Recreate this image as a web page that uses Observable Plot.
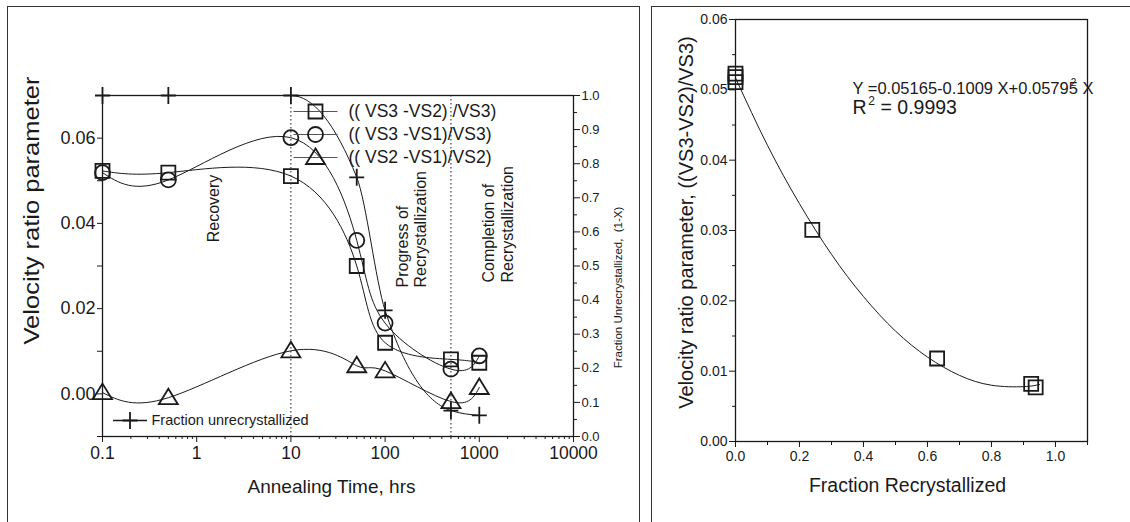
<!DOCTYPE html>
<html><head><meta charset="utf-8">
<script src="https://cdn.jsdelivr.net/npm/d3@7"></script>
<script src="https://cdn.jsdelivr.net/npm/@observablehq/plot@0.6"></script>
<style>
html,body{margin:0;padding:0;background:#fff;}
#wrap{position:relative;width:1130px;height:522px;overflow:hidden;font-family:"Liberation Sans",Arial,sans-serif;}
.panel{position:absolute;border:1.5px solid #333;border-bottom:none;box-sizing:border-box;}
#lp{left:7px;top:6px;width:633px;height:530px;}
#rp{left:651px;top:6px;width:520px;height:530px;}
.plot{position:absolute;top:0;}
</style></head><body>
<div id="wrap"><div class="panel" id="lp"></div><div class="panel" id="rp"></div></div>
<script>
// ---------- data: left panel ----------
const hours = [0.1, 0.5, 10, 50, 100, 500, 1000];
const ratioVS3VS2 = [0.0523, 0.0519, 0.0511, 0.0300, 0.0120, 0.0081, 0.0073];
const ratioVS3VS1 = [0.0519, 0.0502, 0.0601, 0.0360, 0.0166, 0.0058, 0.0089];
const ratioVS2VS1 = [0.0003, -0.0009, 0.0101, 0.0066, 0.0054, -0.0018, 0.0015];
const fractionUnrecrystallized = [1.0, 1.0, 1.0, 0.76, 0.37, 0.076, 0.062];
const seriesNames = ["(( VS3 -VS2) /VS3)", "(( VS3 -VS1)/VS3)", "(( VS2 -VS1)/VS2)"];
const fractionName = "Fraction unrecrystallized";
const phaseBoundaries = [10, 500];
const timeTicks = [0.1, 1, 10, 100, 1000, 10000];
const timeTickLabels = ["0.1", "1", "10", "100", "1000", "10000"];
const ratioTicks = [0, 0.02, 0.04, 0.06];
const ratioMinorTicks = [-0.01, 0.01, 0.03, 0.05];
const fractionTicks = [0, 0.1, 0.2, 0.3, 0.4, 0.5, 0.6, 0.7, 0.8, 0.9, 1.0];
const fractionMinorTicks = [0.05, 0.15, 0.25, 0.35, 0.45, 0.55, 0.65, 0.75, 0.85, 0.95];

// ---------- data: right panel ----------
const fractionRecrystallized = [0, 0, 0, 0.24, 0.63, 0.924, 0.938];
const ratioRight = [0.0523, 0.0518, 0.0511, 0.0301, 0.0118, 0.0082, 0.0077];
const fitX = [0, 0.1, 0.2, 0.3, 0.4, 0.5, 0.6, 0.7, 0.8, 0.9, 0.95];
const fitY = [0.0517, 0.0421, 0.0338, 0.0266, 0.0206, 0.0157, 0.0120, 0.0094, 0.0080, 0.0078, 0.0081];
const recrystTicks = [0, 0.2, 0.4, 0.6, 0.8, 1.0];
const recrystMinorTicks = [0.1, 0.3, 0.5, 0.7, 0.9, 1.1];
const rightRatioTicks = [0, 0.01, 0.02, 0.03, 0.04, 0.05, 0.06];
const rightRatioMinorTicks = [0.005, 0.015, 0.025, 0.035, 0.045, 0.055];

// ---------- helpers ----------
const FONT = '"Liberation Sans", Arial, Helvetica, sans-serif';
const INK = "#1a1a1a";
const symSquare = {draw(c){ c.rect(-7, -7, 14, 14); }};
const symCircle = {draw(c){ c.moveTo(7.5, 0); c.arc(0, 0, 7.5, 0, 2 * Math.PI); }};
const symTriangle = {draw(c){ c.moveTo(0, -9); c.lineTo(9.5, 6.5); c.lineTo(-9.5, 6.5); c.closePath(); }};
const symPlus = {draw(c){ c.moveTo(-7.5, 0); c.lineTo(7.5, 0); c.moveTo(0, -8.5); c.lineTo(0, 8.5); }};
const symLegendLine = {draw(c){ c.moveTo(-22, 0); c.lineTo(22, 0); }};
const symLegendLineShort = {draw(c){ c.moveTo(-17, 0); c.lineTo(17, 0); }};

// notes are placed in page pixels; ox = left offset of the plot's svg in the page
function noteFn(M, ox) {
  return (str, x, y, o = {}) => Plot.text([str], {text: d => d, frameAnchor: "top-left",
    dx: x - ox - M.ml, dy: y - M.mt, fill: INK, textAnchor: "middle", lineAnchor: "middle", ...o});
}
function legendDot(M, x, y, symbol, o = {}) {
  return Plot.dot([0], {frameAnchor: "top-left", dx: x - M.ml, dy: y - M.mt, symbol,
    fill: "none", stroke: INK, strokeWidth: 1.8, ...o});
}
function stretchText(svg, str, len) {
  d3.select(svg).selectAll("text").filter(function () { return this.textContent === str; })
    .attr("textLength", len).attr("lengthAdjust", "spacingAndGlyphs");
}

// ---------- left panel ----------
const LM = {w: 640, h: 522, ml: 102, mr: 67, mt: 95, mb: 86};
const fy = f => -0.01 + f * 0.08;  // fraction (right axis) -> left y scale
const rows = (ys) => hours.map((t, i) => ({t, v: ys[i]}));
const sVS3VS2 = rows(ratioVS3VS2), sVS3VS1 = rows(ratioVS3VS1), sVS2VS1 = rows(ratioVS2VS1);
const sFrac = hours.map((t, i) => ({t, v: fy(fractionUnrecrystallized[i])}));
const minorTime = [];
for (const dec of [0.1, 1, 10, 100, 1000]) for (let k = 2; k <= 9; k++) minorTime.push(+(dec * k).toPrecision(3));
const nL = noteFn(LM, 0);
const lineOpt = {x: "t", y: "v", curve: "natural", stroke: INK, strokeWidth: 1};
const dotOpt = {x: "t", y: "v", fill: "none", stroke: INK, strokeWidth: 1.8};
const yTitleL = "Velocity ratio parameter";

const leftPlot = Plot.plot({
  width: LM.w, height: LM.h, marginLeft: LM.ml, marginRight: LM.mr, marginTop: LM.mt, marginBottom: LM.mb,
  style: {fontFamily: FONT, color: INK, background: "transparent", overflow: "visible"},
  x: {type: "log", domain: [0.1, 10000]},
  y: {domain: [-0.01, 0.07]},
  marks: [
    Plot.ruleX(phaseBoundaries, {stroke: INK, strokeWidth: 1, strokeDasharray: "1.5,2.5"}),
    Plot.frame({stroke: INK, strokeWidth: 1.3}),
    Plot.axisY({ticks: ratioTicks, tickFormat: d3.format(".2f"), tickSize: 5, tickPadding: 2, fontSize: 18, label: null}),
    Plot.axisY({ticks: ratioMinorTicks, tickSize: 5, tickFormat: () => "", label: null}),
    Plot.axisY({anchor: "right", ticks: fractionTicks.map(fy), tickFormat: d => ((d + 0.01) / 0.08).toFixed(1),
      tickSize: 6, tickPadding: 2, fontSize: 13, label: null}),
    Plot.axisY({anchor: "right", ticks: fractionMinorTicks.map(fy), tickSize: 3, tickFormat: () => "", label: null}),
    Plot.axisX({ticks: timeTicks, tickFormat: d => timeTickLabels[timeTicks.indexOf(d)], tickSize: 6, tickPadding: 4, fontSize: 17.5, label: null}),
    Plot.axisX({ticks: minorTime, tickSize: 3, tickFormat: () => "", label: null}),
    Plot.line(sFrac, {...lineOpt, curve: "monotone-x"}),
    Plot.line(sVS3VS2, lineOpt),
    Plot.line(sVS3VS1, lineOpt),
    Plot.line(sVS2VS1, lineOpt),
    Plot.dot(sFrac, {...dotOpt, symbol: symPlus}),
    Plot.dot(sVS3VS2, {...dotOpt, symbol: symSquare}),
    Plot.dot(sVS3VS1, {...dotOpt, symbol: symCircle}),
    Plot.dot(sVS2VS1, {...dotOpt, symbol: symTriangle}),
    // legend (top)
    legendDot(LM, 315, 111, symLegendLine, {stroke: "#555", strokeWidth: 1}),
    legendDot(LM, 315, 134, symLegendLine, {stroke: "#555", strokeWidth: 1}),
    legendDot(LM, 315, 157, symLegendLine, {stroke: "#555", strokeWidth: 1}),
    legendDot(LM, 315, 111, symSquare),
    legendDot(LM, 315, 134, symCircle),
    legendDot(LM, 315, 157, symTriangle),
    nL(seriesNames[0], 348, 111, {textAnchor: "start", fontSize: 17.5}),
    nL(seriesNames[1], 348, 134, {textAnchor: "start", fontSize: 17.5}),
    nL(seriesNames[2], 348, 157, {textAnchor: "start", fontSize: 17.5}),
    // legend (bottom)
    legendDot(LM, 129.5, 420, symLegendLineShort, {strokeWidth: 1.5}),
    legendDot(LM, 129.5, 420, symPlus),
    nL(fractionName, 151, 420, {textAnchor: "start", fontSize: 14.5}),
    // phase annotations
    nL("Recovery", 213, 208, {rotate: -90, fontSize: 16}),
    nL("Progress of", 402, 287, {rotate: -90, textAnchor: "start", fontSize: 16}),
    nL("Recrystallization", 420, 287, {rotate: -90, textAnchor: "start", fontSize: 16}),
    nL("Completion of", 488, 282, {rotate: -90, textAnchor: "start", fontSize: 16}),
    nL("Recrystallization", 507, 282, {rotate: -90, textAnchor: "start", fontSize: 16}),
    // axis titles
    nL(yTitleL, 31, 210, {rotate: -90, fontSize: 22}),
    nL("Fraction Unrecrystallized,  (1-X)", 618, 287, {rotate: -90, fontSize: 11.5}),
    nL("Annealing Time, hrs", 331, 486, {fontSize: 19})
  ]
});
leftPlot.classList.add("plot");
leftPlot.style.left = "0px";
stretchText(leftPlot, yTitleL, 268);

// ---------- right panel ----------
const RX = 652;
const RM = {w: 478, h: 522, ml: 83, mr: 43, mt: 19, mb: 81};
const nR = noteFn(RM, RX);
const pts = fractionRecrystallized.map((x, i) => ({x, y: ratioRight[i]}));
const fit = fitX.map((x, i) => ({x, y: fitY[i]}));
const rightPlot = Plot.plot({
  width: RM.w, height: RM.h, marginLeft: RM.ml, marginRight: RM.mr, marginTop: RM.mt, marginBottom: RM.mb,
  style: {fontFamily: FONT, color: INK, background: "transparent", overflow: "visible"},
  x: {domain: [0, 1.1]},
  y: {domain: [0, 0.06]},
  marks: [
    Plot.frame({stroke: INK, strokeWidth: 1.3}),
    Plot.axisY({ticks: rightRatioTicks, tickFormat: d3.format(".2f"), tickSize: 6, tickPadding: 2, fontSize: 14, label: null}),
    Plot.axisY({ticks: rightRatioMinorTicks, tickSize: 3, tickFormat: () => "", label: null}),
    Plot.axisX({ticks: recrystTicks, tickFormat: d3.format(".1f"), tickSize: 6, tickPadding: 4, fontSize: 14, label: null}),
    Plot.axisX({ticks: recrystMinorTicks, tickSize: 4, tickFormat: () => "", label: null}),
    Plot.line(fit, {x: "x", y: "y", curve: "natural", stroke: INK, strokeWidth: 1}),
    Plot.dot(pts, {x: "x", y: "y", symbol: symSquare, fill: "none", stroke: INK, strokeWidth: 1.8}),
    nR("Y =0.05165-0.1009 X+0.05795 X", 852, 88, {textAnchor: "start", fontSize: 16.5}),
    nR("2", 1073, 82, {fontSize: 10}),
    nR("R", 852, 107, {textAnchor: "start", fontSize: 19.5}),
    nR("2", 871, 101, {fontSize: 12}),
    nR("= 0.9993", 880, 107, {textAnchor: "start", fontSize: 19.5}),
    nR("Velocity ratio parameter, ((VS3-VS2)/VS3)", 686, 222, {rotate: -90, fontSize: 20}),
    nR("Fraction Recrystallized", 907, 485, {fontSize: 19.5})
  ]
});
rightPlot.classList.add("plot");
rightPlot.style.left = RX + "px";
document.getElementById("wrap").append(leftPlot, rightPlot);
</script>
</body></html>
